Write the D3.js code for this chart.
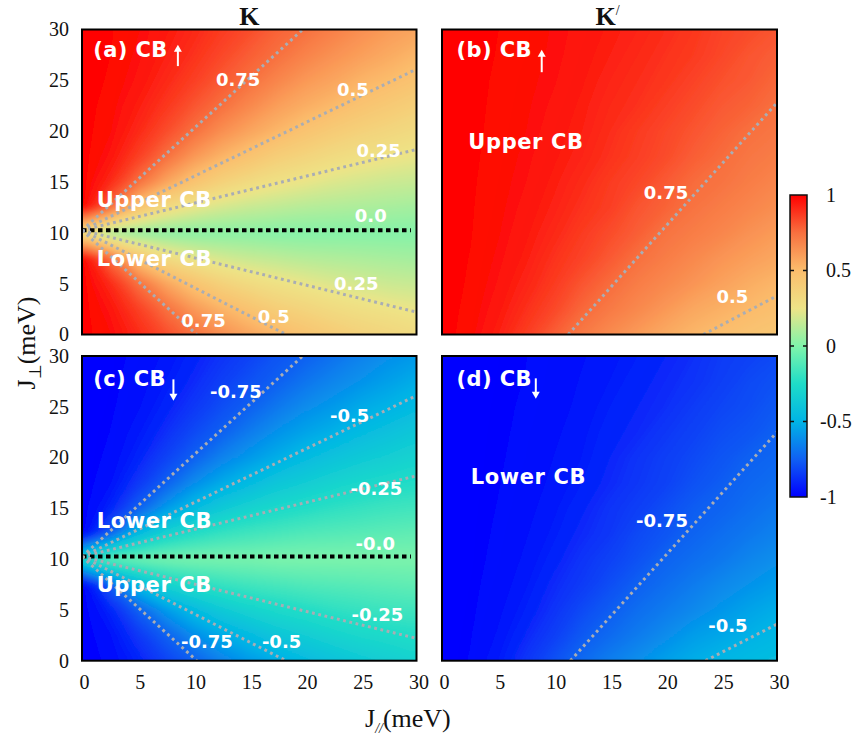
<!DOCTYPE html>
<html>
<head>
<meta charset="utf-8">
<script src="https://cdn.jsdelivr.net/npm/d3@7"></script>
<style>
  body { margin: 0; background: #ffffff; }
  svg { display: block; }
</style>
</head>
<body>
<svg id="chart" width="853" height="735"></svg>
<script>
// ---------------- DATA ----------------
const jPar  = [0, 2.5, 5, 7.5, 10, 12.5, 15, 17.5, 20, 22.5, 25, 27.5, 30];   // x grid (meV)
const jPerp = [0, 2.5, 5, 7.5, 10, 12.5, 15, 17.5, 20, 22.5, 25, 27.5, 30];   // y grid (meV), rows bottom -> top

// (a) K valley, CB spin-up polarisation
const gridA = [
  [1, 0.972, 0.91, 0.83, 0.75, 0.65, 0.58, 0.52, 0.46, 0.41, 0.37, 0.34, 0.31],
  [1, 0.955, 0.86, 0.75, 0.62, 0.53, 0.46, 0.39, 0.35, 0.31, 0.28, 0.26, 0.24],
  [1, 0.91, 0.75, 0.58, 0.46, 0.37, 0.31, 0.27, 0.24, 0.21, 0.19, 0.17, 0.16],
  [1, 0.75, 0.46, 0.31, 0.24, 0.19, 0.16, 0.14, 0.12, 0.11, 0.10, 0.09, 0.08],
  [0.3, 0.09, 0.05, 0.03, 0.02, 0.02, 0.02, 0.01, 0.01, 0.01, 0.01, 0.01, 0.01],
  [1, 0.75, 0.46, 0.31, 0.24, 0.19, 0.16, 0.14, 0.12, 0.11, 0.10, 0.09, 0.08],
  [1, 0.91, 0.75, 0.58, 0.46, 0.37, 0.31, 0.27, 0.24, 0.21, 0.19, 0.17, 0.16],
  [1, 0.955, 0.86, 0.75, 0.62, 0.53, 0.46, 0.39, 0.35, 0.31, 0.28, 0.26, 0.24],
  [1, 0.972, 0.91, 0.83, 0.75, 0.65, 0.58, 0.52, 0.46, 0.41, 0.37, 0.34, 0.31],
  [1, 0.980, 0.935, 0.88, 0.81, 0.75, 0.67, 0.60, 0.55, 0.51, 0.46, 0.42, 0.38],
  [1, 0.987, 0.955, 0.91, 0.86, 0.80, 0.75, 0.68, 0.62, 0.58, 0.53, 0.50, 0.46],
  [1, 0.990, 0.965, 0.93, 0.89, 0.84, 0.79, 0.75, 0.69, 0.64, 0.60, 0.56, 0.52],
  [1, 0.992, 0.972, 0.945, 0.91, 0.87, 0.83, 0.78, 0.75, 0.70, 0.65, 0.61, 0.58]
];

// (b) K' valley, CB spin-up
const gridB = [
  [1, 0.978, 0.930, 0.865, 0.79, 0.72, 0.66, 0.61, 0.56, 0.52, 0.49, 0.46, 0.44],
  [1, 0.983, 0.947, 0.895, 0.84, 0.77, 0.72, 0.67, 0.62, 0.57, 0.54, 0.51, 0.48],
  [1, 0.987, 0.958, 0.918, 0.87, 0.81, 0.76, 0.71, 0.67, 0.63, 0.59, 0.55, 0.52],
  [1, 0.989, 0.966, 0.934, 0.89, 0.85, 0.80, 0.75, 0.71, 0.67, 0.63, 0.60, 0.57],
  [1, 0.991, 0.972, 0.945, 0.91, 0.87, 0.83, 0.79, 0.74, 0.71, 0.68, 0.64, 0.61],
  [1, 0.992, 0.976, 0.953, 0.925, 0.89, 0.86, 0.81, 0.78, 0.74, 0.71, 0.68, 0.65],
  [1, 0.993, 0.979, 0.960, 0.935, 0.905, 0.87, 0.84, 0.80, 0.76, 0.74, 0.71, 0.68],
  [1, 0.994, 0.982, 0.965, 0.944, 0.92, 0.89, 0.86, 0.83, 0.79, 0.76, 0.73, 0.71],
  [1, 0.995, 0.984, 0.970, 0.95, 0.93, 0.90, 0.87, 0.84, 0.81, 0.78, 0.75, 0.73],
  [1, 0.995, 0.986, 0.973, 0.956, 0.936, 0.91, 0.89, 0.86, 0.83, 0.80, 0.78, 0.75],
  [1, 0.996, 0.987, 0.976, 0.962, 0.943, 0.92, 0.90, 0.88, 0.85, 0.82, 0.80, 0.77],
  [1, 0.996, 0.989, 0.979, 0.966, 0.948, 0.93, 0.91, 0.89, 0.87, 0.84, 0.81, 0.79],
  [1, 0.997, 0.990, 0.981, 0.968, 0.953, 0.937, 0.92, 0.90, 0.88, 0.85, 0.83, 0.81]
];

// (c) K valley, CB spin-down
const gridC = [
  [-1, -0.972, -0.91, -0.83, -0.75, -0.65, -0.58, -0.52, -0.46, -0.41, -0.37, -0.34, -0.31],
  [-1, -0.955, -0.86, -0.75, -0.62, -0.53, -0.46, -0.39, -0.35, -0.31, -0.28, -0.26, -0.24],
  [-1, -0.91, -0.75, -0.58, -0.46, -0.37, -0.31, -0.27, -0.24, -0.21, -0.19, -0.17, -0.16],
  [-1, -0.75, -0.46, -0.31, -0.24, -0.19, -0.16, -0.14, -0.12, -0.11, -0.10, -0.09, -0.08],
  [-0.3, -0.09, -0.05, -0.03, -0.02, -0.02, -0.02, -0.01, -0.01, -0.01, -0.01, -0.01, -0.01],
  [-1, -0.75, -0.46, -0.31, -0.24, -0.19, -0.16, -0.14, -0.12, -0.11, -0.10, -0.09, -0.08],
  [-1, -0.91, -0.75, -0.58, -0.46, -0.37, -0.31, -0.27, -0.24, -0.21, -0.19, -0.17, -0.16],
  [-1, -0.955, -0.86, -0.75, -0.62, -0.53, -0.46, -0.39, -0.35, -0.31, -0.28, -0.26, -0.24],
  [-1, -0.972, -0.91, -0.83, -0.75, -0.65, -0.58, -0.52, -0.46, -0.41, -0.37, -0.34, -0.31],
  [-1, -0.980, -0.935, -0.88, -0.81, -0.75, -0.67, -0.60, -0.55, -0.51, -0.46, -0.42, -0.38],
  [-1, -0.987, -0.955, -0.91, -0.86, -0.80, -0.75, -0.68, -0.62, -0.58, -0.53, -0.50, -0.46],
  [-1, -0.990, -0.965, -0.93, -0.89, -0.84, -0.79, -0.75, -0.69, -0.64, -0.60, -0.56, -0.52],
  [-1, -0.992, -0.972, -0.945, -0.91, -0.87, -0.83, -0.78, -0.75, -0.70, -0.65, -0.61, -0.58]
];

// (d) K' valley, CB spin-down
const gridD = [
  [-1, -0.978, -0.930, -0.865, -0.79, -0.72, -0.66, -0.61, -0.56, -0.52, -0.49, -0.46, -0.44],
  [-1, -0.983, -0.947, -0.895, -0.84, -0.77, -0.72, -0.67, -0.62, -0.57, -0.54, -0.51, -0.48],
  [-1, -0.987, -0.958, -0.918, -0.87, -0.81, -0.76, -0.71, -0.67, -0.63, -0.59, -0.55, -0.52],
  [-1, -0.989, -0.966, -0.934, -0.89, -0.85, -0.80, -0.75, -0.71, -0.67, -0.63, -0.60, -0.57],
  [-1, -0.991, -0.972, -0.945, -0.91, -0.87, -0.83, -0.79, -0.74, -0.71, -0.68, -0.64, -0.61],
  [-1, -0.992, -0.976, -0.953, -0.925, -0.89, -0.86, -0.81, -0.78, -0.74, -0.71, -0.68, -0.65],
  [-1, -0.993, -0.979, -0.960, -0.935, -0.905, -0.87, -0.84, -0.80, -0.76, -0.74, -0.71, -0.68],
  [-1, -0.994, -0.982, -0.965, -0.944, -0.92, -0.89, -0.86, -0.83, -0.79, -0.76, -0.73, -0.71],
  [-1, -0.995, -0.984, -0.970, -0.95, -0.93, -0.90, -0.87, -0.84, -0.81, -0.78, -0.75, -0.73],
  [-1, -0.995, -0.986, -0.973, -0.956, -0.936, -0.91, -0.89, -0.86, -0.83, -0.80, -0.78, -0.75],
  [-1, -0.996, -0.987, -0.976, -0.962, -0.943, -0.92, -0.90, -0.88, -0.85, -0.82, -0.80, -0.77],
  [-1, -0.996, -0.989, -0.979, -0.966, -0.948, -0.93, -0.91, -0.89, -0.87, -0.84, -0.81, -0.79],
  [-1, -0.997, -0.990, -0.981, -0.968, -0.953, -0.937, -0.92, -0.90, -0.88, -0.85, -0.83, -0.81]
];

// iso-lines (straight dotted lines) : level, start point, end point (meV)
const linesA = [
  {level: 0.75, x1: 0, y1: 10.25, x2: 19.8, y2: 30},
  {level: 0.5,  x1: 0, y1: 10.25, x2: 30,   y2: 26.1},
  {level: 0.25, x1: 0, y1: 10.25, x2: 30,   y2: 18.2},
  {level: 0.0,  x1: 0, y1: 10.25, x2: 29.5, y2: 10.25},
  {level: 0.25, x1: 0, y1: 10.25, x2: 30,   y2: 2.2},
  {level: 0.5,  x1: 0, y1: 10.25, x2: 18.3, y2: 0},
  {level: 0.75, x1: 0, y1: 10.25, x2: 10.3, y2: 0}
];
const linesB = [
  {level: 0.75, x1: 11.3, y1: 0, x2: 30, y2: 22.8},
  {level: 0.5,  x1: 23.4, y1: 0, x2: 30, y2: 3.8}
];
const linesC = [
  {level: -0.75, x1: 0, y1: 10.25, x2: 19.8, y2: 30},
  {level: -0.5,  x1: 0, y1: 10.25, x2: 30,   y2: 26.1},
  {level: -0.25, x1: 0, y1: 10.25, x2: 30,   y2: 18.2},
  {level: 0.0,   x1: 0, y1: 10.25, x2: 29.5, y2: 10.25},
  {level: -0.25, x1: 0, y1: 10.25, x2: 30,   y2: 2.2},
  {level: -0.5,  x1: 0, y1: 10.25, x2: 18.3, y2: 0},
  {level: -0.75, x1: 0, y1: 10.25, x2: 10.3, y2: 0}
];
const linesD = [
  {level: -0.75, x1: 11.5, y1: 0, x2: 30, y2: 22.5},
  {level: -0.5,  x1: 23.6, y1: 0, x2: 30, y2: 3.6}
];

// iso-line labels (centre, meV)
const levelLabelsA = [
  {text: "0.75", x: 14.0, y: 25.1}, {text: "0.5", x: 24.3, y: 24.1},
  {text: "0.25", x: 26.6, y: 18.1}, {text: "0.0", x: 25.9, y: 11.75},
  {text: "0.25", x: 24.6, y: 4.97}, {text: "0.5", x: 17.2, y: 1.75},
  {text: "0.75", x: 10.9, y: 1.33}
];
const levelLabelsB = [ {text: "0.75", x: 20.06, y: 13.95}, {text: "0.5", x: 26.0, y: 3.72} ];
const levelLabelsC = [
  {text: "-0.75", x: 13.8, y: 26.5}, {text: "-0.5", x: 24.0, y: 24.1},
  {text: "-0.25", x: 26.4, y: 17.0}, {text: "-0.0", x: 26.3, y: 11.5},
  {text: "-0.25", x: 26.5, y: 4.5}, {text: "-0.5", x: 17.9, y: 1.87},
  {text: "-0.75", x: 11.2, y: 1.87}
];
const levelLabelsD = [ {text: "-0.75", x: 19.7, y: 13.85}, {text: "-0.5", x: 25.6, y: 3.5} ];

// band names (left start, centre)
const bandNamesA = [ {text: "Upper CB", x: 1.32, y: 13.3}, {text: "Lower CB", x: 1.32, y: 7.5} ];
const bandNamesB = [ {text: "Upper CB", x: 2.36, y: 18.96} ];
const bandNamesC = [ {text: "Lower CB", x: 1.32, y: 13.85}, {text: "Upper CB", x: 1.32, y: 7.5} ];
const bandNamesD = [ {text: "Lower CB", x: 2.57, y: 18.12} ];

const panelTags   = ["(a) CB", "(b) CB", "(c) CB", "(d) CB"];
const spinUp      = [true, true, false, false];
const valleyNames = ["K", "K"];

const axisTicks = [0, 5, 10, 15, 20, 25, 30];
const cbTicks   = [1, 0.5, 0, -0.5, -1];
const cbTickLabels = ["1", "0.5", "0", "-0.5", "-1"];

const colorStops = [-1, -0.75, -0.5, -0.25, 0, 0.25, 0.5, 0.75, 1];
const colorRange = ["#0000ff", "#1060f2", "#00b4e6", "#1edcc8", "#80f4aa", "#eee487", "#fbbd6c", "#f8703f", "#ff0000"];

// ---------------- DRAWING ----------------
const svg = d3.select("#chart");
const SERIF = "'Liberation Serif', 'Times New Roman', serif";
const SANS = "'DejaVu Sans', Verdana, sans-serif";
const color = d3.scaleLinear().domain(colorStops).range(colorRange).clamp(true);

const cols = [{left: 82, right: 416.5}, {left: 442, right: 777}];
const rows = [{top: 29.5, bottom: 334.5}, {top: 356, bottom: 660.7}];

const panels = [
  {grid: gridA, lines: linesA, labels: levelLabelsA, names: bandNamesA, tag: panelTags[0], up: spinUp[0], c: 0, r: 0, arrowX: 8.6,  arrowY: [26.4, 28.5]},
  {grid: gridB, lines: linesB, labels: levelLabelsB, names: bandNamesB, tag: panelTags[1], up: spinUp[1], c: 1, r: 0, arrowX: 8.93, arrowY: [25.8, 28.0]},
  {grid: gridC, lines: linesC, labels: levelLabelsC, names: bandNamesC, tag: panelTags[2], up: spinUp[2], c: 0, r: 1, arrowX: 8.2,  arrowY: [27.7, 25.6]},
  {grid: gridD, lines: linesD, labels: levelLabelsD, names: bandNamesD, tag: panelTags[3], up: spinUp[3], c: 1, r: 1, arrowX: 8.4,  arrowY: [27.8, 25.8]}
];

const defs = svg.append("defs");
defs.append("filter").attr("id", "soft")
  .attr("x", "-5%").attr("y", "-5%").attr("width", "110%").attr("height", "110%")
  .append("feGaussianBlur").attr("stdDeviation", 3);

const thresholds = d3.range(-1, 1.0001, 0.01);
const nx = jPar.length, ny = jPerp.length;
const step = jPar[1] - jPar[0];

panels.forEach((p, k) => {
  const col = cols[p.c], row = rows[p.r];
  const xs = d3.scaleLinear().domain([0, 30]).range([col.left, col.right]);
  const ys = d3.scaleLinear().domain([0, 30]).range([row.bottom, row.top]);

  defs.append("clipPath").attr("id", "clip" + k)
    .append("rect").attr("x", col.left).attr("y", row.top)
    .attr("width", col.right - col.left).attr("height", row.bottom - row.top);

  const g = svg.append("g");
  const clipG = g.append("g").attr("clip-path", `url(#clip${k})`);
  const heat = clipG.append("g").attr("filter", "url(#soft)");

  // heat map: filled iso-bands generated by d3.contours from the grid
  const flat = [];
  for (let j = 0; j < ny; j++) for (let i = 0; i < nx; i++) flat.push(p.grid[j][i]);
  const bands = d3.contours().size([nx, ny]).thresholds(thresholds)(flat);
  const proj = d3.geoTransform({
    point: function (x, y) { this.stream.point(xs((x - 0.5) * step), ys((y - 0.5) * step)); }
  });
  const path = d3.geoPath(proj);
  heat.selectAll("path.band").data(bands).join("path")
    .attr("class", "band")
    .attr("d", path)
    .attr("fill", d => color(Math.min(1, d.value + 0.005)))
    .attr("stroke", d => color(Math.min(1, d.value + 0.005)))
    .attr("stroke-width", 0.4);

  // iso lines
  clipG.selectAll("line.iso").data(p.lines).join("line")
    .attr("class", "iso")
    .attr("x1", d => xs(d.x1)).attr("y1", d => ys(d.y1))
    .attr("x2", d => xs(d.x2)).attr("y2", d => ys(d.y2))
    .attr("stroke", d => d.level === 0 ? "#000000" : "#a9adb4")
    .attr("stroke-width", d => d.level === 0 ? 4 : 3)
    .attr("stroke-dasharray", d => d.level === 0 ? "4.5,3.5" : "2.8,3.6");

  // border
  g.append("rect").attr("x", col.left).attr("y", row.top)
    .attr("width", col.right - col.left).attr("height", row.bottom - row.top)
    .attr("fill", "none").attr("stroke", "#000").attr("stroke-width", 2);

  // level labels
  g.selectAll("text.lvl").data(p.labels).join("text")
    .attr("class", "lvl")
    .attr("x", d => xs(d.x)).attr("y", d => ys(d.y))
    .attr("dy", "0.36em")
    .attr("text-anchor", "middle")
    .attr("font-family", SANS).attr("font-weight", "bold").attr("font-size", 18)
    .attr("fill", "#ffffff")
    .text(d => d.text);

  // band names
  g.selectAll("text.band").data(p.names).join("text")
    .attr("class", "band")
    .attr("x", d => xs(d.x)).attr("y", d => ys(d.y))
    .attr("dy", "0.36em")
    .attr("font-family", SANS).attr("font-weight", "bold").attr("font-size", 21)
    .attr("letter-spacing", 0.6)
    .attr("fill", "#ffffff")
    .text(d => d.text);

  // panel tag
  g.append("text")
    .attr("x", xs(p.c === 0 ? 1.0 : 1.3)).attr("y", ys(p.r === 0 ? 28.0 : 27.75))
    .attr("dy", "0.36em")
    .attr("font-family", SANS).attr("font-weight", "bold").attr("font-size", 21)
    .attr("letter-spacing", 0.4)
    .attr("fill", "#ffffff")
    .text(p.tag);

  // spin arrow
  const ax = xs(p.arrowX), yTail = ys(p.arrowY[0]), yHead = ys(p.arrowY[1]);
  const dir = yHead < yTail ? -1 : 1;
  g.append("line").attr("x1", ax).attr("x2", ax)
    .attr("y1", yTail).attr("y2", yHead - dir * 5)
    .attr("stroke", "#fff").attr("stroke-width", 2);
  g.append("path")
    .attr("d", `M${ax - 4},${yHead - dir * 7} L${ax + 4},${yHead - dir * 7} L${ax},${yHead} Z`)
    .attr("fill", "#fff");

  // axes
  if (p.c === 0) {
    const ax1 = g.append("g").attr("transform", `translate(${col.left},0)`)
      .call(d3.axisLeft(ys).tickValues(axisTicks).tickSize(0).tickPadding(13).tickFormat(d3.format("d")));
    ax1.select(".domain").remove();
    ax1.selectAll("text").attr("font-family", SERIF).attr("font-size", 20).attr("fill", "#111");
  }
  if (p.r === 1) {
    const ax2 = g.append("g").attr("transform", `translate(2,${row.bottom})`)
      .call(d3.axisBottom(xs).tickValues(axisTicks).tickSize(0).tickPadding(14).tickFormat(d3.format("d")));
    ax2.select(".domain").remove();
    ax2.selectAll("text").attr("font-family", SERIF).attr("font-size", 20).attr("fill", "#111");
  }
});

// valley titles
const titleXs = [ (cols[0].left + cols[0].right) / 2, (cols[1].left + cols[1].right) / 2 - 2 ];
valleyNames.forEach((name, i) => {
  const t = svg.append("text")
    .attr("x", titleXs[i]).attr("y", 25)
    .attr("text-anchor", "middle")
    .attr("font-family", SERIF).attr("font-weight", "bold").attr("font-size", 26)
    .attr("fill", "#111")
    .text(name);
  if (i === 1) {
    t.append("tspan").attr("dy", -10).attr("font-size", 14).attr("font-weight", "normal").text("/");
  }
});

// axis titles
const xl = svg.append("text")
  .attr("x", 365).attr("y", 727)
  .attr("font-family", SERIF).attr("font-size", 26).attr("fill", "#111");
xl.append("tspan").text("J");
xl.append("tspan").attr("dy", 6).attr("font-size", 14).attr("font-style", "italic").text("//");
xl.append("tspan").attr("dy", -6).text("(meV)");

const yl = svg.append("text")
  .attr("transform", "translate(35,343) rotate(-90)")
  .attr("text-anchor", "middle")
  .attr("font-family", SERIF).attr("font-size", 26).attr("fill", "#111");
yl.append("tspan").text("J");
yl.append("tspan").attr("dy", 6).attr("font-size", 17).text("\u22A5");
yl.append("tspan").attr("dy", -6).text("(meV)");

// colour bar
const cb = {left: 790, right: 807, top: 195, bottom: 497};
const cbScale = d3.scaleLinear().domain([-1, 1]).range([cb.bottom, cb.top]);
const grad = defs.append("linearGradient").attr("id", "cbgrad")
  .attr("x1", 0).attr("y1", 1).attr("x2", 0).attr("y2", 0);
grad.selectAll("stop").data(colorStops).join("stop")
  .attr("offset", d => (d + 1) / 2)
  .attr("stop-color", d => color(d));
svg.append("rect").attr("x", cb.left).attr("y", cb.top)
  .attr("width", cb.right - cb.left).attr("height", cb.bottom - cb.top)
  .attr("fill", "url(#cbgrad)").attr("stroke", "#111").attr("stroke-width", 1.5);
const inner = cbTicks.filter(v => Math.abs(v) < 1);
svg.selectAll("line.cbtl").data(inner).join("line").attr("class", "cbtl")
  .attr("x1", cb.left).attr("x2", cb.left + 4)
  .attr("y1", d => cbScale(d)).attr("y2", d => cbScale(d))
  .attr("stroke", "#111").attr("stroke-width", 1.5);
svg.selectAll("line.cbtr").data(inner).join("line").attr("class", "cbtr")
  .attr("x1", cb.right - 4).attr("x2", cb.right)
  .attr("y1", d => cbScale(d)).attr("y2", d => cbScale(d))
  .attr("stroke", "#111").attr("stroke-width", 1.5);
svg.selectAll("text.cbl").data(cbTicks).join("text").attr("class", "cbl")
  .attr("x", (d) => d < 0 ? 820 : 826)
  .attr("y", d => cbScale(d)).attr("dy", "0.34em")
  .attr("font-family", SERIF).attr("font-size", 20).attr("fill", "#111")
  .text((d, i) => cbTickLabels[i]);
</script>
</body>
</html>
